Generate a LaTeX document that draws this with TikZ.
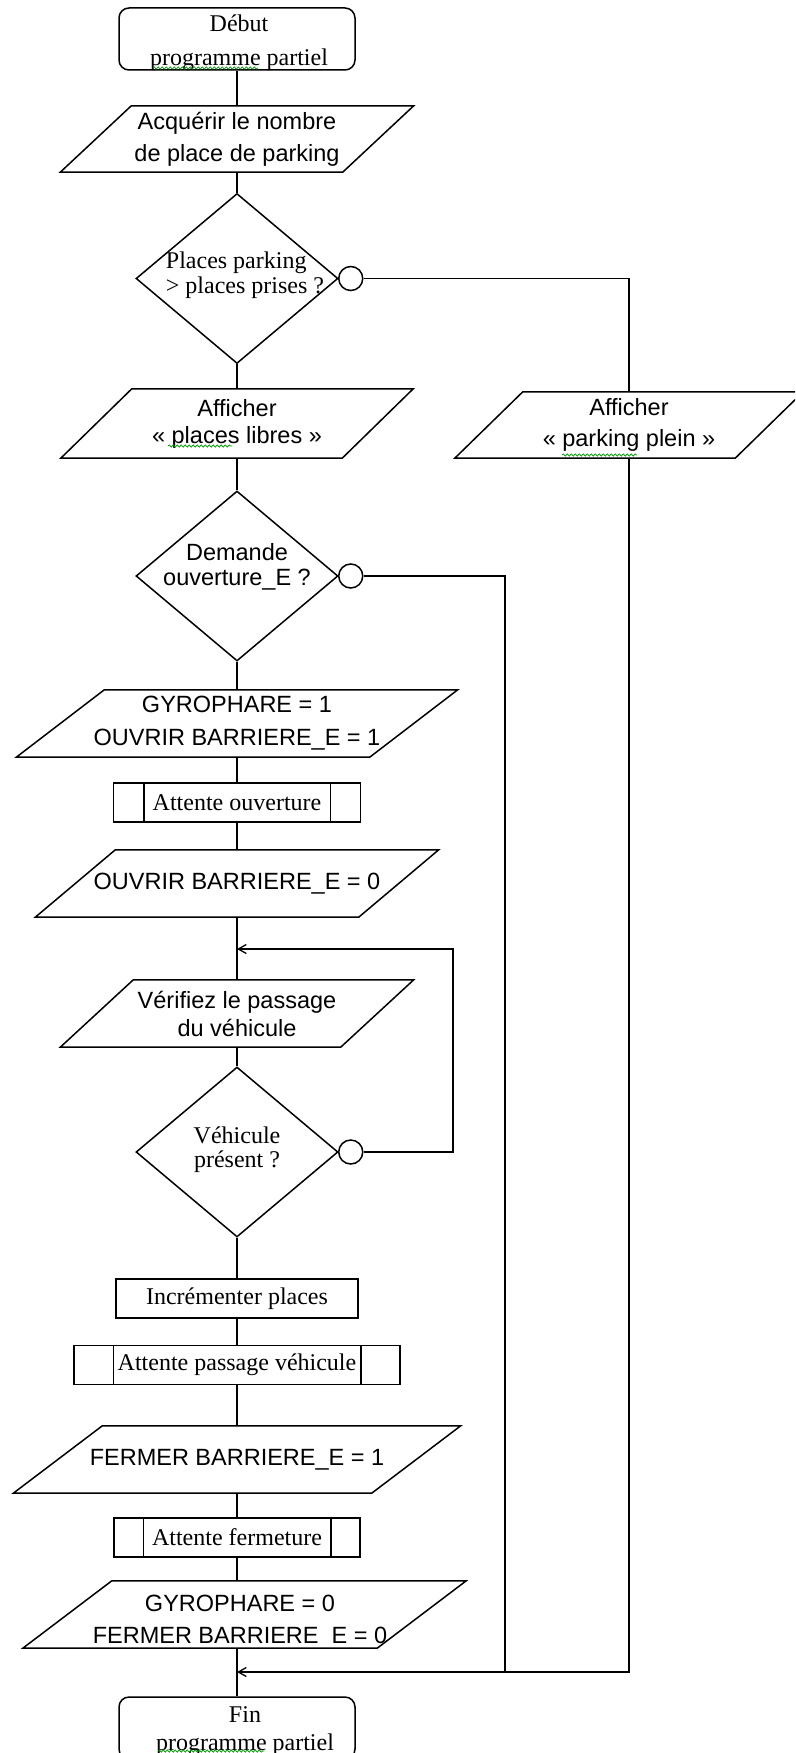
\documentclass[tikz,border=0pt]{standalone}
\usepackage{fontspec}
\setmainfont{Liberation Serif}
\newfontfamily\arialfam{Liberation Sans}
\usetikzlibrary{shapes.geometric,arrows.meta,decorations.pathmorphing}

\tikzset{
  outline/.style={draw=black, line width=1.5pt},
  link/.style={draw=black, line width=1.7pt},
  merge/.style={link, -{Straight Barb[length=8pt,width=9pt,line width=1.3pt]}},
  sans/.style={font=\arialfam\fontsize{23.5pt}{#1}\selectfont},
  sans/.default=31pt,
  serif/.style={font=\fontsize{24pt}{#1}\selectfont},
  serif/.default=28pt,
  terminal/.style={outline, rounded corners=10pt, minimum width=236pt,
    minimum height=62pt, inner sep=0pt},
  process/.style={outline, minimum width=242pt, minimum height=39pt,
    inner sep=0pt, align=center},
  % predefined process: rectangle with an inner bar on each side
  sub/.style 2 args={outline, minimum width=#1, minimum height=39pt,
    inner sep=0pt, align=center,
    append after command={\pgfextra{
      \draw[outline] ([xshift=#2]\tikzlastnode.north west) -- ([xshift=#2]\tikzlastnode.south west)
                     ([xshift=-#2]\tikzlastnode.north east) -- ([xshift=-#2]\tikzlastnode.south east);}}},
  % input/output: parallelogram of body width #1, height #2, slant #3
  io/.style n args={3}{minimum width=#1, minimum height=#2, inner sep=0pt, align=center,
    append after command={\pgfextra{
      \draw[outline] ([xshift=#3/2]\tikzlastnode.north west) -- ([xshift=#3/2]\tikzlastnode.north east)
                  -- ([xshift=-#3/2]\tikzlastnode.south east) -- ([xshift=-#3/2]\tikzlastnode.south west) -- cycle;}}},
  decision/.style={diamond, outline, minimum width=202pt, minimum height=170pt, inner sep=0pt},
  dtext/.style={inner sep=0pt, align=center},
  circ/.style={circle, outline, minimum size=24pt, inner sep=0pt},
  spell/.style={draw=green!60!black, line width=0.7pt, decorate,
    decoration={snake, segment length=4pt, amplitude=1.2pt}}
}

\begin{document}
\begin{tikzpicture}[x=1pt, y=-1pt]
  \fill[white] (0,0) rectangle (795,1753);
  \useasboundingbox (0,0) rectangle (795,1753);
  \clip (0,0) rectangle (795,1753);

  % main column
  \node[terminal] (debut) at (237,39) {};
  \node[dtext, serif=34pt] (debutt) at (239,43) {Début\\programme partiel};
  \node[io={282}{66}{71}, sans=32pt] (acq) at (237,139) {Acquérir le nombre\\de place de parking};
  \node[decision] (d1) at (237,278.5) {};
  \node[dtext, serif=25pt, align=left] (d1t) at (245,275.5) {Places parking\\> places prises ?};
  \node[circ] (c1) at ([xshift=12pt]d1.east) {};
  \node[io={281}{69}{71}, sans=27pt] (free) at (237,423.5) {Afficher\\« places libres »};
  \node[io={280}{66}{68}, sans=31pt] (full) at (629,425) {Afficher\\« parking plein »};

  \node[decision] (d2) at (237,576) {};
  \node[dtext, sans=25pt] (d2t) at (237,566.5) {Demande\\ouverture\_E ?};
  \node[circ] (c2) at ([xshift=12pt]d2.east) {};
  \node[io={353}{67}{88}, sans=33pt] (gy1) at (237,723.5) {GYROPHARE = 1\\OUVRIR BARRIERE\_E = 1};
  \node[sub={247}{31}, serif] (wo) at (237,802.5) {Attente ouverture};
  \node[io={323}{67}{80}, sans] (ov0) at (237,883.5) {OUVRIR BARRIERE\_E = 0};
  \node[io={280}{67}{73}, sans=28pt] (chk) at (237,1013.5) {Vérifiez le passage\\du véhicule};

  \node[decision] (d3) at (237,1152) {};
  \node[dtext, serif=24pt] (d3t) at (237,1150) {Véhicule\\présent ?};
  \node[circ] (c3) at ([xshift=12pt]d3.east) {};
  \node[process, serif] (inc) at (237,1298.5) {Incrémenter places};
  \node[sub={326}{40}, serif] (wp) at (237,1365) {Attente passage véhicule};
  \node[io={358}{67}{89}, sans] (fe1) at (237,1459.5) {FERMER BARRIERE\_E = 1};
  \node[sub={246}{30}, serif] (wf) at (237,1537.5) {Attente fermeture};
  \node[io={354}{67}{89}] (gy0) at (244.5,1614.5) {};
  \node[dtext, sans=32pt] (gy0t) at (240,1622) {GYROPHARE = 0\\FERMER BARRIERE\phantom{\_}E = 0};
  \node[terminal] (fin) at (237,1728) {};
  \node[dtext, serif=28pt] (fint) at (245,1731) {Fin\\programme partiel};

  % junction points of the return lines
  \coordinate (m1) at (237,949);
  \coordinate (k1) at (453,949);
  \coordinate (m2) at (237,1672);
  \coordinate (j2) at (505,1672);

  % straight flow
  \draw[link] (debut.south) -- (acq.north);
  \draw[link] (acq.south) -- (d1.north);
  \draw[link] (d1.south) -- (free.north);
  \draw[link] (free.south) -- (d2.north);
  \draw[link] (d2.south) -- (gy1.north);
  \draw[link] (gy1.south) -- (wo.north);
  \draw[link] (wo.south) -- (ov0.north);
  \draw[link] (ov0.south) -- (chk.north);
  \draw[link] (chk.south) -- (d3.north);
  \draw[link] (d3.south) -- (inc.north);
  \draw[link] (inc.south) -- (wp.north);
  \draw[link] (wp.south) -- (fe1.north);
  \draw[link] (fe1.south) -- (wf.north);
  \draw[link] (wf.south) -- (wf.south |- gy0.north);
  \draw[link] (gy0.south -| fin.north) -- (fin.north);

  % "no" branches
  \draw[link] (c1.east) -| (full.north);
  \draw[merge] (full.south) |- (m2);
  \draw[link] (c2.east) -| (j2);
  \draw[merge] (c3.east) -| (k1) -- (m1);

  % spell-check underlines
  \draw[spell] (153,68) -- (258,68);
  \draw[spell] (168,446) -- (232,446);
  \draw[spell] (562,455) -- (637,455);
  \draw[spell] (158,1751) -- (264,1751);
\end{tikzpicture}
\end{document}
